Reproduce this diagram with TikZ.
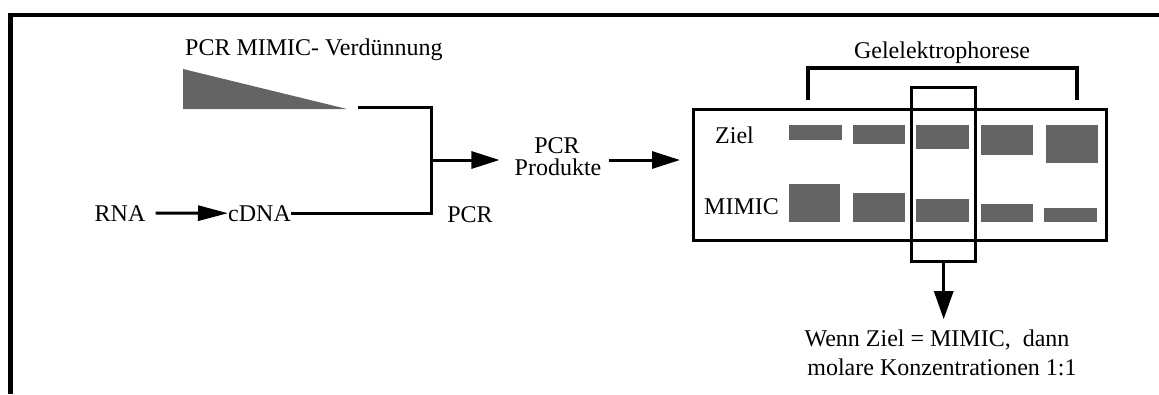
\documentclass[tikz,border=0pt]{standalone}
\usepackage{fontspec}
\setmainfont{Liberation Serif}
\usetikzlibrary{arrows.meta}
\definecolor{bandgray}{RGB}{100,100,100}
\begin{document}
\begin{tikzpicture}[x=1pt,y=-1pt,
  lbl/.style={inner sep=0pt, font=\fontsize{24}{29}\selectfont},
  wire/.style={line width=3pt, line join=miter},
  bigarrow/.style={wire, -{Triangle[length=28pt,width=17pt]}},
  band/.style={fill=bandgray},
  frameline/.style={line width=4.5pt, line join=miter},
  boxline/.style={draw, line width=3.4pt, inner sep=0pt, anchor=north west}]
\useasboundingbox (0,0) rectangle (1159,394);

% frame (top and left edges)
\draw[frameline] (10.5,394) -- (10.5,15) -- (1159,15);

% dilution series of the competitor
\node[lbl, anchor=base west] (title) at (185,55) {PCR MIMIC- Verdünnung};
\fill[bandgray] (183,69) -- (347,109) -- (183,109) -- cycle;
\coordinate (dil) at (358,107);

% reverse transcription
\node[lbl, anchor=base] (rna) at (120,221) {RNA};
\node[lbl, anchor=base west] (cdna) at (228,221) {cDNA};
\draw[wire, -{Triangle[length=30pt,width=15pt]}] ([xshift=10pt]rna.east) -- (cdna.west);

% joining into the PCR
\coordinate (jtop) at (431,107);
\coordinate (jmid) at (431,160);
\coordinate (jbot) at (431,213);
\draw[wire] (dil) -- (jtop) -- (jbot) -- (cdna.east |- jbot);
\node[lbl, anchor=base] (pcr) at (470,222) {PCR};

% PCR products
\node[lbl, anchor=base] (pcrp) at (557,153) {PCR};
\node[lbl, anchor=base] (prod) at (558,175) {Produkte};
\draw[bigarrow] (jmid) -- ([xshift=-15pt]prod.west |- jmid);

% gel
\node[boxline, minimum width=413pt, minimum height=131pt] (gel) at (692,108) {};
\draw[bigarrow] ([xshift=7pt]prod.east |- jmid) -- ([xshift=-12pt]gel.west |- jmid);

\node[lbl, anchor=base] (gelel) at (942,58) {Gelelektrophorese};
\draw[line width=3.4pt, line join=miter] (808,100) -- (808,68) -- (1077,68) -- (1077,100);

\node[lbl, anchor=base west] (ziel) at (715,143) {Ziel};
\node[lbl, anchor=base west] (mimic) at (704,214) {MIMIC};

% target bands
\fill[band] (789,125) rectangle (842,140);
\fill[band] (853,125) rectangle (905,144);
\fill[band] (916,125) rectangle (969,149);
\fill[band] (981,125) rectangle (1033,155);
\fill[band] (1046,125) rectangle (1098,163);
% competitor bands
\fill[band] (789,184) rectangle (840,222);
\fill[band] (853,193) rectangle (905,222);
\fill[band] (916,199) rectangle (969,222);
\fill[band] (981,204) rectangle (1033,222);
\fill[band] (1044,208) rectangle (1097,222);

% equivalence lane
\node[boxline, minimum width=64pt, minimum height=174pt] (lane) at (910,86) {};

\node[lbl, anchor=base] (res1) at (937,346) {Wenn Ziel = MIMIC,\ \ dann};
\node[lbl, anchor=base] (res2) at (942,375) {molare Konzentrationen 1:1};
\draw[wire, -{Triangle[length=28pt,width=19pt]}] (lane.south) -- ([yshift=10pt]lane.south |- res1.north);
\end{tikzpicture}
\end{document}
